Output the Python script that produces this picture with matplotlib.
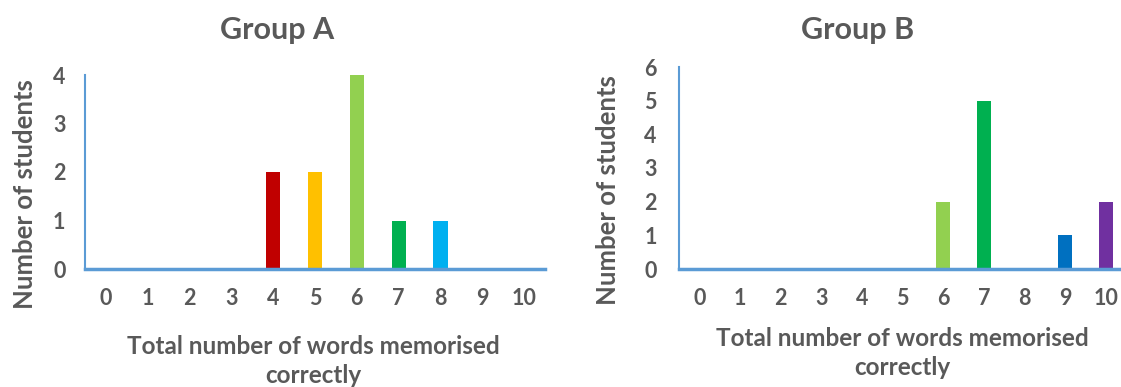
import matplotlib
matplotlib.use("Agg")
import matplotlib.pyplot as plt
import numpy as np

# data
scores = list(range(11))
group_a = [0, 0, 0, 0, 2, 2, 4, 1, 1, 0, 0]
group_b = [0, 0, 0, 0, 0, 0, 2, 5, 0, 1, 2]
colors_a = ["w", "w", "w", "w", "#C00000", "#FFC000", "#92D050", "#00B050", "#00B0F0", "w", "w"]
colors_b = ["w", "w", "w", "w", "w", "w", "#92D050", "#00B050", "w", "#0070C0", "#7030A0"]

plt.rcParams['font.family'] = ['Lato', 'DejaVu Sans']
grey = "#595959"
axis_blue = "#5B9BD5"

W, H = 1121, 387
fig = plt.figure(figsize=(W / 100, H / 100), dpi=100)


def px(x0, y0, x1, y1):
    # pixel box (left, top, right, bottom) -> figure fraction rect
    return [x0 / W, 1 - y1 / H, (x1 - x0) / W, (y1 - y0) / H]


def draw(rect, values, colors, ymax, title, title_xy, ylab_xy, xlab_xy, ypad):
    ax = fig.add_axes(px(*rect))
    ax.bar(scores, values, width=0.34, color=colors, zorder=2)
    ax.set_xlim(-0.5, 10.5)
    ax.set_ylim(0, ymax)
    ax.set_xticks(scores)
    ax.set_yticks(range(ymax + 1))
    for s in ["top", "right"]:
        ax.spines[s].set_visible(False)
    ax.spines["left"].set_color(axis_blue)
    ax.spines["left"].set_linewidth(1.5)
    ax.spines["bottom"].set_color(axis_blue)
    ax.spines["bottom"].set_linewidth(2.5)
    ax.spines["bottom"].set_zorder(3)
    ax.tick_params(axis="both", length=0, labelsize=15.5, labelcolor=grey)
    ax.tick_params(axis="x", pad=14)
    ax.tick_params(axis="y", pad=ypad)
    for lbl in ax.get_xticklabels() + ax.get_yticklabels():
        lbl.set_fontweight("bold")
    fig.text(title_xy[0] / W, 1 - title_xy[1] / H, title, ha="center", va="center",
             fontsize=22, fontweight="bold", color=grey)
    fig.text(ylab_xy[0] / W, 1 - ylab_xy[1] / H, "Number of students", rotation=90,
             ha="center", va="center", fontsize=18.5, fontweight="bold", color=grey)
    fig.text(xlab_xy[0] / W, 1 - xlab_xy[1] / H, "Total number of words memorised\ncorrectly",
             ha="center", va="center", fontsize=17.5, fontweight="bold", color=grey,
             linespacing=1.32)
    return ax


draw((85, 75, 545, 269), group_a, colors_a, 4, "Group A", (277, 30), (25, 194), (313, 361), 14)
draw((679, 67, 1126, 269), group_b, colors_b, 6, "Group B", (858, 30), (608, 190), (902, 353), 16)

fig.savefig("out.png", dpi=100, facecolor="white")
